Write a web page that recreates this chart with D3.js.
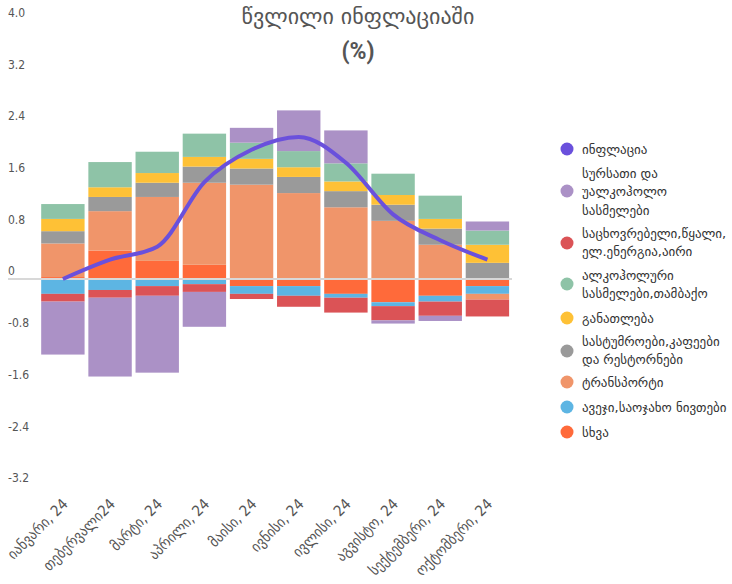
<!DOCTYPE html>
<html>
<head>
<meta charset="utf-8">
<script src="https://cdn.jsdelivr.net/npm/d3@7"></script>
<style>
  html, body { margin: 0; padding: 0; background: #fff; }
  svg { display: block; }
</style>
</head>
<body>
<svg id="chart" width="732" height="584"></svg>
<script>
const months = ["იანვარი, 24", "თებერვალი24", "მარტი, 24", "აპრილი, 24", "მაისი, 24", "ივნისი, 24", "ივლისი, 24", "აგვისტო, 24", "სექტემბერი, 24", "ოქტომბერი, 24"];
const yTicks = [-3.2, -2.4, -1.6, -0.8, 0, 0.8, 1.6, 2.4, 3.2, 4.0];
const yTickLabels = ["-3.2", "-2.4", "-1.6", "-0.8", "0", "0.8", "1.6", "2.4", "3.2", "4.0"];

const inflation = [0.0, 0.3, 0.5, 1.5, 2.0, 2.2, 1.8, 1.0, 0.6, 0.3];
const food      = [-0.82, -1.22, -1.19, -0.54, 0.23, 0.63, 0.51, -0.05, -0.08, 0.14];
const housing   = [-0.12, -0.12, -0.15, -0.12, -0.08, -0.17, -0.23, -0.22, -0.22, -0.26];
const alcohol   = [0.23, 0.39, 0.33, 0.36, 0.25, 0.25, 0.28, 0.33, 0.36, 0.22];
const education = [0.19, 0.15, 0.15, 0.15, 0.15, 0.15, 0.15, 0.15, 0.15, 0.28];
const hotels    = [0.19, 0.22, 0.22, 0.25, 0.25, 0.25, 0.25, 0.25, 0.25, 0.25];
const transport = [0.52, 0.61, 0.99, 1.27, 1.46, 1.33, 1.11, 0.90, 0.53, -0.09];
const furniture = [-0.23, -0.17, -0.11, -0.08, -0.12, -0.15, -0.06, -0.06, -0.09, -0.12];
const other     = [0.03, 0.44, 0.28, 0.22, -0.11, -0.11, -0.23, -0.36, -0.26, -0.11];

const legendLines = {
  inflation: ["ინფლაცია"],
  food: ["სურსათი და", "უალკოჰოლო", "სასმელები"],
  housing: ["საცხოვრებელი,წყალი,", "ელ.ენერგია,აირი"],
  alcohol: ["ალკოჰოლური", "სასმელები,თამბაქო"],
  education: ["განათლება"],
  hotels: ["სასტუმროები,კაფეები", "და რესტორნები"],
  transport: ["ტრანსპორტი"],
  furniture: ["ავეჯი,საოჯახო ნივთები"],
  other: ["სხვა"]
};
const colors = {
  inflation: "#6a50dc",
  food: "#ab91c6",
  housing: "#db5356",
  alcohol: "#8ec3a7",
  education: "#fec136",
  hotels: "#9a9a9a",
  transport: "#f0956a",
  furniture: "#5db5e3",
  other: "#ff6a3a"
};
const values = { food, housing, alcohol, education, hotels, transport, furniture, other };
// stacking order: first key is nearest the zero line
const stackKeys = ["other", "furniture", "transport", "hotels", "education", "alcohol", "housing", "food"];
const legendKeys = ["inflation", "food", "housing", "alcohol", "education", "hotels", "transport", "furniture", "other"];

const table = months.map((m, i) => {
  const row = { month: m };
  stackKeys.forEach(k => row[k] = values[k][i]);
  return row;
});

const svg = d3.select("#chart");

const x = d3.scaleBand().domain(months).range([39.3, 511]).paddingInner(0.08).paddingOuter(0.04);
const y = d3.scaleLinear().domain([-3.2, 4.0]).range([485.7, 20.6]);

const stack = d3.stack().keys(stackKeys).offset(d3.stackOffsetDiverging);
const layers = stack(table);

const gBars = svg.append("g");
gBars.selectAll("g.layer").data(layers).join("g")
  .attr("class", "layer")
  .attr("fill", d => colors[d.key])
  .selectAll("rect").data(d => d).join("rect")
  .attr("x", d => x(d.data.month))
  .attr("width", x.bandwidth())
  .attr("y", d => y(Math.max(d[0], d[1])))
  .attr("height", d => Math.abs(y(d[0]) - y(d[1])));

// zero line
svg.append("line")
  .attr("x1", 8).attr("x2", 512)
  .attr("y1", y(0)).attr("y2", y(0))
  .attr("stroke", "#d8d8d8").attr("stroke-width", 2);

// y axis labels
const yAxis = d3.axisLeft(y).tickValues(yTicks).tickSize(0).tickFormat((d, i) => yTickLabels[i]);
const gy = svg.append("g").attr("transform", "translate(8,0)").call(yAxis);
gy.select(".domain").remove();
gy.selectAll("text")
  .attr("x", 0).attr("dy", -4)
  .attr("text-anchor", "start")
  .attr("fill", "#555")
  .style("font-family", "'DejaVu Sans Condensed', 'DejaVu Sans', sans-serif")
  .style("font-size", "12px");
gy.selectAll(".tick text").attr("dominant-baseline", "auto").attr("y", 0);

// x axis labels
const xAxis = d3.axisBottom(x).tickSize(0);
const gx = svg.append("g").attr("transform", "translate(0,492)").call(xAxis);
gx.select(".domain").remove();
gx.selectAll("text")
  .attr("y", 0).attr("dy", 0)
  .attr("text-anchor", "end")
  .attr("transform", "translate(6,13) rotate(-45)")
  .attr("fill", "#555")
  .style("font-family", "'DejaVu Sans Condensed', 'DejaVu Sans', sans-serif")
  .style("font-size", "15px");

// inflation line
const line = d3.line()
  .x((d, i) => x(months[i]) + x.bandwidth() / 2)
  .y(d => y(d))
  .curve(d3.curveMonotoneX);
svg.append("path")
  .datum(inflation)
  .attr("d", line)
  .attr("fill", "none")
  .attr("stroke", colors.inflation)
  .attr("stroke-width", 4)
  .attr("stroke-linecap", "butt");

// title
svg.append("text")
  .attr("x", 358).attr("y", 24)
  .attr("text-anchor", "middle")
  .attr("fill", "#555")
  .style("font-family", "'DejaVu Sans', sans-serif")
  .style("font-size", "22px")
  .text("წვლილი ინფლაციაში");
svg.append("text")
  .attr("x", 358).attr("y", 59)
  .attr("text-anchor", "middle")
  .attr("fill", "#555")
  .style("font-family", "Roboto, sans-serif")
  .style("font-weight", "bold")
  .style("font-size", "23px")
  .text("(%)");

// legend
const legendMarkerY = [149, 191, 243, 284, 318, 351, 382, 407, 432];
const legendFirstLineY = [149, 173, 233, 275, 318, 341, 382, 407, 432];
const lineH = 18.5;
const gl = svg.append("g");
legendKeys.forEach((k, i) => {
  gl.append("circle")
    .attr("cx", 567).attr("cy", legendMarkerY[i]).attr("r", 6.5)
    .attr("fill", colors[k]);
  const t = gl.append("text")
    .attr("x", 582)
    .attr("fill", "#333")
    .style("font-family", "'DejaVu Sans', sans-serif")
    .style("font-size", "13px");
  legendLines[k].forEach((ln, j) => {
    t.append("tspan").attr("x", 582)
      .attr("y", legendFirstLineY[i] + j * lineH)
      .attr("dy", "0.35em")
      .text(ln);
  });
});
</script>
</body>
</html>
